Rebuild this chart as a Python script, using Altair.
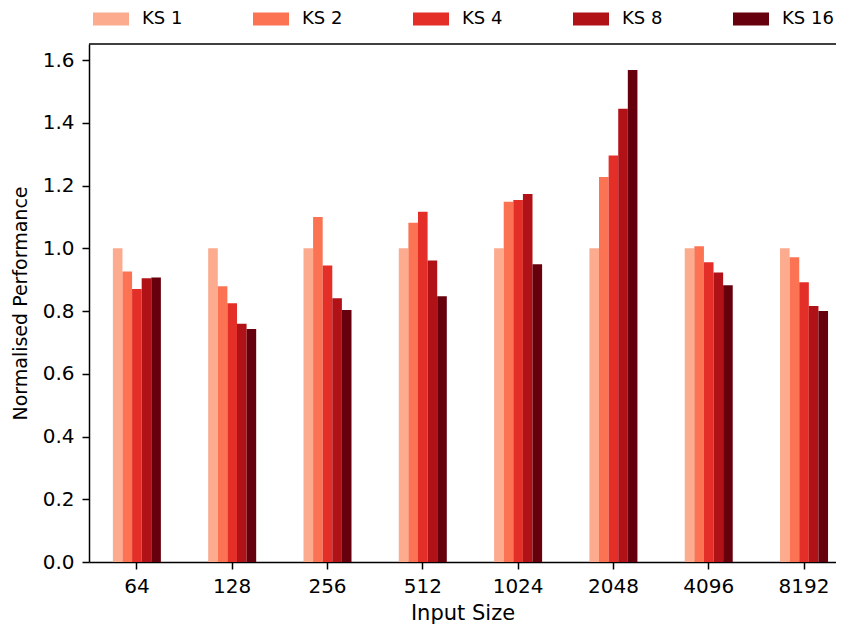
import altair as alt
import pandas as pd

sizes = ["64", "128", "256", "512", "1024", "2048", "4096", "8192"]
kernels = ["KS 1", "KS 2", "KS 4", "KS 8", "KS 16"]
ks1 = [1.0, 1.0, 1.0, 1.0, 1.0, 1.0, 1.0, 1.0]
ks2 = [0.926, 0.879, 1.100, 1.081, 1.148, 1.227, 1.006, 0.971]
ks4 = [0.870, 0.825, 0.945, 1.116, 1.154, 1.296, 0.955, 0.892]
ks8 = [0.904, 0.759, 0.841, 0.961, 1.173, 1.445, 0.923, 0.816]
ks16 = [0.907, 0.743, 0.803, 0.847, 0.949, 1.568, 0.882, 0.800]
colors = ["#fcab8f", "#fb7353", "#e32f27", "#b11218", "#67000d"]
y_ticks = [0.0, 0.2, 0.4, 0.6, 0.8, 1.0, 1.2, 1.4, 1.6]

series = [ks1, ks2, ks4, ks8, ks16]
rows = []
for k, vals in zip(kernels, series):
    for s, v in zip(sizes, vals):
        rows.append({"size": s, "kernel": k, "value": v})
df = pd.DataFrame(rows)

W, H = 747, 518
FONT = "DejaVu Sans"

bars = alt.Chart(df).mark_bar(stroke=None).encode(
    x=alt.X(
        "size:N",
        sort=sizes,
        scale=alt.Scale(paddingInner=0.4963, paddingOuter=0.167, align=0.75),
        axis=alt.Axis(title="Input Size", labelAngle=0, labelPadding=7, titlePadding=6,
                      labelFontSize=20, titleFontSize=21),
    ),
    xOffset=alt.XOffset("kernel:N", sort=kernels, scale=alt.Scale(paddingInner=0, paddingOuter=0)),
    y=alt.Y(
        "value:Q",
        scale=alt.Scale(domain=[0, 1.651], nice=False, zero=True),
        axis=alt.Axis(values=y_ticks, format=".1f", title="Normalised Performance",
                      labelPadding=8, titlePadding=12, titleFontSize=19),
    ),
    color=alt.Color(
        "kernel:N",
        sort=kernels,
        scale=alt.Scale(domain=kernels, range=colors),
        legend=alt.Legend(
            title=None,
            orient="none",
            legendX=4,
            legendY=-43,
            direction="horizontal",
            columns=5,
            gridAlign="all",
            columnPadding=59,
            padding=0,
            symbolType="M-1,-0.361H1V0.361H-1Z",
            symbolSize=1296,
            symbolStrokeWidth=0,
            symbolOpacity=1,
            labelFont=FONT,
            labelFontSize=18,
            labelColor="black",
            labelOffset=13,
        ),
    ),
)

top_spine = alt.Chart(pd.DataFrame({"a": [0]})).mark_rule(color="black", strokeWidth=1.5).encode(
    y=alt.value(0), x=alt.value(0), x2=alt.value(W + 10)
)

chart = alt.layer(bars, top_spine).properties(
    width=W,
    height=H,
    autosize=alt.AutoSizeParams(type="none"),
    padding={"left": 81, "top": 36, "right": 0, "bottom": 63},
).configure_view(stroke=None).configure_axis(
    labelFont=FONT,
    titleFont=FONT,
    labelFontSize=20,
    titleFontSize=22,
    titleFontWeight="normal",
    labelColor="black",
    titleColor="black",
    domainColor="black",
    tickColor="black",
    domainWidth=1.5,
    tickWidth=1.5,
    tickSize=7,
    grid=False,
)

chart.save("out.html", embed_options={"renderer": "svg", "actions": False})
